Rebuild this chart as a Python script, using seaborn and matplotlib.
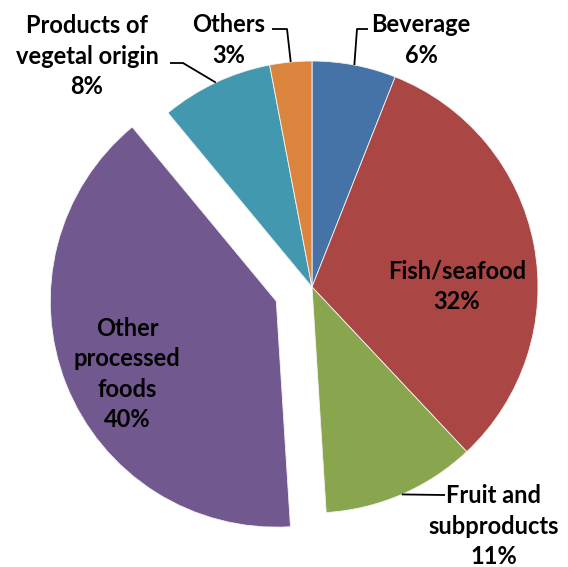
import numpy as np
import matplotlib
matplotlib.use("Agg")
import matplotlib.pyplot as plt
import seaborn as sns

sns.set_theme(style="white")
plt.rcParams["font.family"] = ["Lato", "DejaVu Sans"]

# Export shares by product group, clockwise from 12 o'clock
categories = ["Beverage", "Fish/seafood", "Fruit and\nsubproducts",
              "Other\nprocessed\nfoods", "Products of\nvegetal origin", "Others"]
shares = [6, 32, 11, 40, 8, 3]
colors = ["#4572a7", "#aa4643", "#89a54e", "#71588f", "#4198af", "#db843d"]
explode = [0, 0, 0, 0.17, 0, 0]

W, H = 568, 567
CX, CY, R = 312, 287, 226  # pie centre and radius in pixels


def px(x, y):
    """Pixel position (from top-left) to data coordinates."""
    return (x - CX) / R, (CY - y) / R


fig = plt.figure(figsize=(W / 100, H / 100), dpi=100)
ax = fig.add_axes([0, 0, 1, 1])
ax.pie(shares, colors=colors, explode=explode, startangle=90,
       counterclock=False, radius=1,
       wedgeprops=dict(linewidth=0.6, edgecolor="#f4f4f4"))
ax.set_xlim(-CX / R, (W - CX) / R)
ax.set_ylim(-(H - CY) / R, CY / R)
ax.set_aspect("equal")
ax.axis("off")

labels = [f"{c}\n{s}%" for c, s in zip(categories, shares)]
label_px = [(421, 40), (457, 286), (494, 526), (127, 374), (87, 56), (229, 40)]

# leader lines: elbow and text-side end for outside labels
leaders = {0: [(357, 29), (368, 29)],
           2: [(443, 495), (445, 495)],
           4: [(183, 63), (170, 63)],
           5: [(287, 29), (272, 29)]}

cum = np.cumsum([0] + shares)
for i, (lab, (lx, ly)) in enumerate(zip(labels, label_px)):
    tx, ty = px(lx, ly)
    ax.text(tx, ty, lab, ha="center", va="center", fontsize=17,
            fontweight="bold", color="black", linespacing=1.38)
    if i in leaders:
        mid = (cum[i] + shares[i] / 2) / sum(shares) * 2 * np.pi
        ex, ey = np.sin(mid), np.cos(mid)
        pts = [(ex, ey)] + [px(*p) for p in leaders[i]]
        xs, ys = zip(*pts)
        ax.plot(xs, ys, color="black", linewidth=1.3, solid_capstyle="butt")

fig.savefig("out.png", dpi=100)
